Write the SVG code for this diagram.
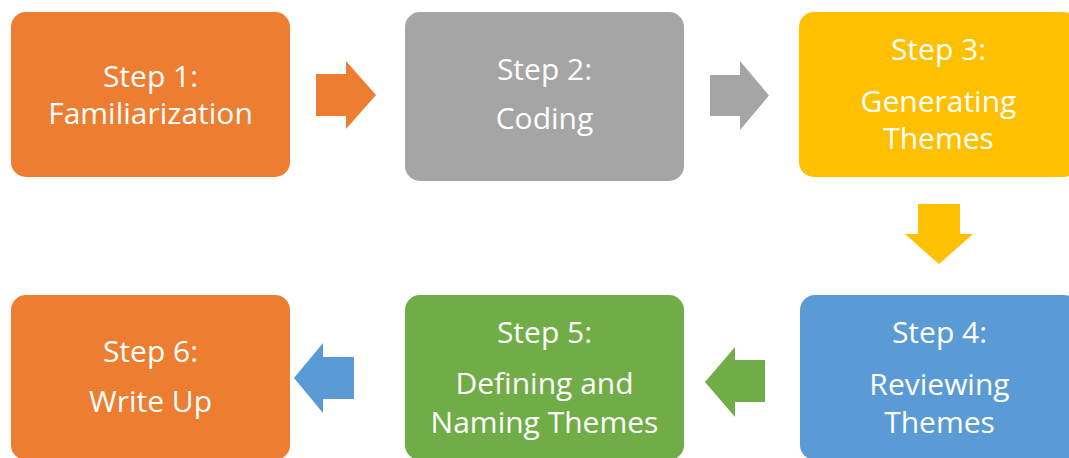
<svg xmlns="http://www.w3.org/2000/svg" width="1069" height="458" viewBox="0 0 1069 458">
<style>
.t{font-family:"Open Sans","Liberation Sans",sans-serif;font-size:30px;fill:#ffffff;text-anchor:middle}
.orange{fill:#ED7D31}.gray{fill:#A5A5A5}.yellow{fill:#FFC000}.blue{fill:#5B9BD5}.green{fill:#70AD47}
</style>
<rect width="1069" height="458" fill="#ffffff"/>
<g id="step1"><rect class="orange" x="11" y="12" width="279" height="165" rx="15"/>
<text class="t" x="150.5" y="87">Step 1:</text><text class="t" x="150.5" y="124">Familiarization</text></g>
<g id="step2"><rect class="gray" x="405" y="12" width="279" height="169" rx="15"/>
<text class="t" x="544.5" y="80">Step 2:</text><text class="t" x="544.5" y="129">Coding</text></g>
<g id="step3"><rect class="yellow" x="799" y="12" width="279" height="165" rx="15"/>
<text class="t" x="938.5" y="60">Step 3:</text><text class="t" x="938.5" y="112">Generating</text><text class="t" x="938.5" y="149">Themes</text></g>
<g id="step4"><rect class="blue" x="800" y="295" width="279" height="165" rx="15"/>
<text class="t" x="939.5" y="343">Step 4:</text><text class="t" x="939.5" y="395">Reviewing</text><text class="t" x="939.5" y="433">Themes</text></g>
<g id="step5"><rect class="green" x="405" y="295" width="279" height="165" rx="15"/>
<text class="t" x="544.5" y="343">Step 5:</text><text class="t" x="544.5" y="394">Defining and</text><text class="t" x="544.5" y="433">Naming Themes</text></g>
<g id="step6"><rect class="orange" x="11" y="295" width="279" height="165" rx="15"/>
<text class="t" x="150.5" y="362">Step 6:</text><text class="t" x="150.5" y="412">Write Up</text></g>
<g id="connectors">
<polygon class="orange" points="316,74 346,74 346,61 376,95 346,129 346,116 316,116"/>
<polygon class="gray" points="710,75 740,75 740,61 769,95.5 740,130 740,116 710,116"/>
<polygon class="yellow" points="918,204 960,204 960,234 973,234 939,264 905,234 918,234"/>
<polygon class="green" points="765,360 735,360 735,347 705,382 735,417 735,402 765,402"/>
<polygon class="blue" points="354,357 323,357 323,343 294,378 323,413 323,399 354,399"/>
</g>
</svg>
